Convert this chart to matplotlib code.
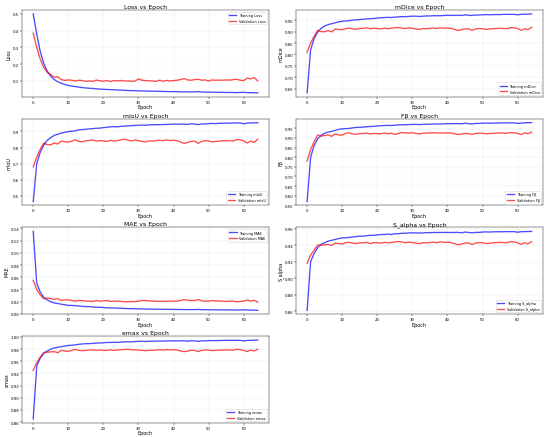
import matplotlib
matplotlib.use('Agg')
import matplotlib.pyplot as plt

epochs = list(range(65))

loss_train = [0.500, 0.380, 0.275, 0.205, 0.158, 0.128, 0.108, 0.095, 0.086, 0.079,
              0.073, 0.069, 0.066, 0.063, 0.060, 0.058, 0.056, 0.055, 0.053, 0.051,
              0.050, 0.049, 0.048, 0.047, 0.046, 0.045, 0.044, 0.043, 0.042, 0.042,
              0.041, 0.040, 0.040, 0.039, 0.039, 0.038, 0.038, 0.037, 0.037, 0.036,
              0.036, 0.036, 0.035, 0.035, 0.035, 0.034, 0.035, 0.036, 0.034, 0.033,
              0.033, 0.033, 0.032, 0.032, 0.032, 0.031, 0.031, 0.031, 0.030, 0.031,
              0.032, 0.030, 0.030, 0.029, 0.029]
loss_val = [0.385, 0.300, 0.230, 0.180, 0.150, 0.138, 0.122, 0.125, 0.108, 0.103,
            0.106, 0.104, 0.100, 0.104, 0.102, 0.098, 0.100, 0.097, 0.105, 0.101,
            0.098, 0.103, 0.096, 0.102, 0.100, 0.103, 0.099, 0.100, 0.098, 0.099,
            0.112, 0.104, 0.102, 0.101, 0.100, 0.097, 0.104, 0.098, 0.103, 0.100,
            0.102, 0.104, 0.108, 0.114, 0.106, 0.104, 0.108, 0.110, 0.104, 0.106,
            0.099, 0.106, 0.104, 0.105, 0.104, 0.106, 0.105, 0.108, 0.110, 0.104,
            0.102, 0.117, 0.112, 0.120, 0.100]

mdice_train = [0.632, 0.820, 0.870, 0.898, 0.915, 0.925, 0.931, 0.935, 0.939, 0.943,
               0.946, 0.947, 0.948, 0.951, 0.952, 0.953, 0.955, 0.956, 0.957, 0.958,
               0.960, 0.961, 0.962, 0.963, 0.962, 0.964, 0.965, 0.966, 0.966, 0.967,
               0.968, 0.968, 0.967, 0.968, 0.969, 0.969, 0.970, 0.970, 0.970, 0.971,
               0.972, 0.971, 0.972, 0.972, 0.971, 0.974, 0.972, 0.971, 0.973, 0.973,
               0.974, 0.975, 0.974, 0.975, 0.975, 0.975, 0.976, 0.976, 0.976, 0.976,
               0.974, 0.976, 0.977, 0.977, 0.978]
mdice_val = [0.810, 0.850, 0.880, 0.906, 0.900, 0.900, 0.905, 0.899, 0.912, 0.910,
             0.909, 0.913, 0.916, 0.912, 0.911, 0.914, 0.915, 0.917, 0.913, 0.915,
             0.914, 0.912, 0.916, 0.913, 0.915, 0.917, 0.918, 0.916, 0.914, 0.917,
             0.915, 0.912, 0.910, 0.914, 0.913, 0.915, 0.916, 0.914, 0.917, 0.915,
             0.916, 0.915, 0.910, 0.905, 0.909, 0.912, 0.913, 0.906, 0.912, 0.914,
             0.913, 0.910, 0.912, 0.913, 0.914, 0.915, 0.914, 0.913, 0.918, 0.917,
             0.914, 0.906, 0.913, 0.909, 0.919]

miou_train = [0.464, 0.700, 0.770, 0.815, 0.845, 0.862, 0.876, 0.883, 0.890, 0.895,
              0.899, 0.902, 0.904, 0.910, 0.912, 0.914, 0.916, 0.918, 0.920, 0.921,
              0.924, 0.926, 0.929, 0.930, 0.929, 0.932, 0.934, 0.935, 0.936, 0.938,
              0.939, 0.940, 0.939, 0.941, 0.942, 0.942, 0.943, 0.943, 0.944, 0.945,
              0.946, 0.945, 0.946, 0.946, 0.944, 0.948, 0.946, 0.943, 0.947, 0.947,
              0.949, 0.950, 0.949, 0.951, 0.951, 0.952, 0.952, 0.953, 0.953, 0.953,
              0.948, 0.952, 0.954, 0.954, 0.955]
miou_val = [0.680, 0.740, 0.790, 0.828, 0.818, 0.818, 0.828, 0.822, 0.840, 0.836,
            0.834, 0.840, 0.848, 0.838, 0.836, 0.842, 0.845, 0.847, 0.840, 0.843,
            0.842, 0.838, 0.845, 0.840, 0.843, 0.848, 0.852, 0.846, 0.842, 0.847,
            0.843, 0.838, 0.835, 0.842, 0.840, 0.843, 0.846, 0.842, 0.848, 0.844,
            0.845, 0.843, 0.835, 0.826, 0.832, 0.838, 0.840, 0.826, 0.838, 0.843,
            0.841, 0.835, 0.838, 0.840, 0.842, 0.843, 0.842, 0.840, 0.850, 0.848,
            0.842, 0.828, 0.840, 0.832, 0.852]

fb_train = [0.570, 0.800, 0.860, 0.895, 0.913, 0.924, 0.930, 0.934, 0.939, 0.944,
            0.947, 0.948, 0.949, 0.952, 0.954, 0.955, 0.956, 0.958, 0.959, 0.960,
            0.962, 0.963, 0.964, 0.965, 0.964, 0.966, 0.967, 0.968, 0.968, 0.969,
            0.970, 0.970, 0.969, 0.970, 0.971, 0.971, 0.972, 0.972, 0.972, 0.973,
            0.974, 0.973, 0.974, 0.974, 0.973, 0.976, 0.974, 0.972, 0.975, 0.975,
            0.976, 0.977, 0.976, 0.977, 0.977, 0.977, 0.978, 0.978, 0.978, 0.978,
            0.975, 0.977, 0.978, 0.979, 0.979]
fb_val = [0.780, 0.840, 0.880, 0.915, 0.910, 0.912, 0.916, 0.908, 0.921, 0.915,
          0.914, 0.924, 0.926, 0.920, 0.919, 0.922, 0.923, 0.925, 0.920, 0.923,
          0.922, 0.921, 0.925, 0.922, 0.924, 0.918, 0.923, 0.928, 0.926, 0.925,
          0.927, 0.923, 0.921, 0.924, 0.925, 0.926, 0.927, 0.925, 0.926, 0.925,
          0.926, 0.925, 0.922, 0.917, 0.920, 0.923, 0.922, 0.918, 0.923, 0.925,
          0.924, 0.921, 0.923, 0.924, 0.925, 0.926, 0.925, 0.924, 0.928, 0.926,
          0.924, 0.917, 0.926, 0.922, 0.930]

mae_train = [0.135, 0.050, 0.036, 0.027, 0.023, 0.020, 0.018, 0.017, 0.016, 0.015,
             0.014, 0.014, 0.0135, 0.013, 0.0125, 0.012, 0.012, 0.0115, 0.011, 0.011,
             0.0105, 0.010, 0.010, 0.0098, 0.0095, 0.0093, 0.009, 0.0088, 0.0086, 0.0085,
             0.0083, 0.0082, 0.0081, 0.008, 0.0079, 0.0078, 0.0077, 0.0076, 0.0076, 0.0075,
             0.0074, 0.0074, 0.0073, 0.0072, 0.0072, 0.0071, 0.0072, 0.0074, 0.0071, 0.007,
             0.0069, 0.0068, 0.0068, 0.0067, 0.0067, 0.0066, 0.0066, 0.0065, 0.0065, 0.0065,
             0.0068, 0.0064, 0.0063, 0.0062, 0.006]
mae_val = [0.055, 0.040, 0.031, 0.025, 0.026, 0.025, 0.024, 0.025, 0.022, 0.023,
           0.023, 0.022, 0.021, 0.022, 0.022, 0.021, 0.021, 0.0205, 0.022, 0.021,
           0.0215, 0.022, 0.0205, 0.021, 0.021, 0.0205, 0.020, 0.020, 0.0205, 0.020,
           0.021, 0.022, 0.022, 0.0215, 0.021, 0.021, 0.0205, 0.021, 0.0205, 0.021,
           0.021, 0.021, 0.022, 0.0235, 0.0225, 0.022, 0.022, 0.0235, 0.0215, 0.021,
           0.021, 0.022, 0.0215, 0.021, 0.021, 0.0205, 0.021, 0.021, 0.020, 0.0205,
           0.021, 0.023, 0.021, 0.0225, 0.0195]

salpha_train = [0.861, 0.920, 0.930, 0.937, 0.941, 0.943, 0.945, 0.946, 0.947, 0.948,
                0.949, 0.949, 0.9495, 0.950, 0.9505, 0.951, 0.951, 0.9515, 0.952, 0.952,
                0.9525, 0.953, 0.953, 0.9535, 0.953, 0.954, 0.954, 0.9545, 0.9545, 0.955,
                0.955, 0.955, 0.9548, 0.955, 0.9553, 0.9553, 0.9555, 0.9555, 0.9555, 0.9556,
                0.9556, 0.9554, 0.9556, 0.9556, 0.9550, 0.9560, 0.9556, 0.9550, 0.9556, 0.9556,
                0.9560, 0.9562, 0.9560, 0.9563, 0.9563, 0.9564, 0.9564, 0.9565, 0.9565, 0.9565,
                0.9558, 0.9564, 0.9566, 0.9566, 0.9568]
salpha_val = [0.918, 0.928, 0.934, 0.9405, 0.940, 0.9405, 0.941, 0.9398, 0.9425, 0.942,
              0.9415, 0.943, 0.9435, 0.9425, 0.942, 0.943, 0.943, 0.9435, 0.942, 0.9432,
              0.943, 0.9425, 0.9435, 0.943, 0.9432, 0.944, 0.9445, 0.944, 0.943, 0.9438,
              0.9432, 0.9425, 0.942, 0.943, 0.943, 0.9432, 0.9438, 0.943, 0.9442, 0.9435,
              0.9437, 0.9432, 0.942, 0.9405, 0.9415, 0.9425, 0.9428, 0.9408, 0.9425, 0.9433,
              0.943, 0.942, 0.9425, 0.943, 0.9432, 0.9435, 0.9432, 0.943, 0.9445, 0.944,
              0.943, 0.941, 0.943, 0.9418, 0.9445]

emax_train = [0.865, 0.952, 0.965, 0.973, 0.977, 0.980, 0.982, 0.983, 0.984, 0.985,
              0.986, 0.9865, 0.987, 0.988, 0.9885, 0.989, 0.989, 0.9895, 0.990, 0.990,
              0.9905, 0.991, 0.991, 0.9912, 0.991, 0.9915, 0.992, 0.992, 0.992, 0.9925,
              0.9928, 0.993, 0.9925, 0.993, 0.993, 0.9932, 0.9933, 0.9933, 0.9935, 0.9935,
              0.9937, 0.9935, 0.9937, 0.9937, 0.993, 0.994, 0.9935, 0.993, 0.9937, 0.9937,
              0.994, 0.9942, 0.994, 0.9943, 0.9943, 0.9945, 0.9945, 0.9945, 0.9945, 0.9945,
              0.9935, 0.9943, 0.9945, 0.9947, 0.9948]
emax_val = [0.945, 0.958, 0.967, 0.9745, 0.975, 0.9755, 0.976, 0.974, 0.978, 0.977,
            0.9765, 0.978, 0.9795, 0.978, 0.9775, 0.978, 0.9785, 0.979, 0.978, 0.9785,
            0.978, 0.9778, 0.979, 0.978, 0.9785, 0.979, 0.9795, 0.9798, 0.979, 0.9788,
            0.9783, 0.978, 0.9775, 0.978, 0.978, 0.9785, 0.979, 0.9783, 0.9792, 0.9788,
            0.979, 0.9785, 0.977, 0.9758, 0.9768, 0.978, 0.978, 0.976, 0.978, 0.9787,
            0.9785, 0.9775, 0.978, 0.9783, 0.9785, 0.9788, 0.9785, 0.9783, 0.9798, 0.9793,
            0.978, 0.976, 0.9785, 0.977, 0.980]

metrics = [
    ('Loss', loss_train, loss_val),
    ('mDice', mdice_train, mdice_val),
    ('mIoU', miou_train, miou_val),
    ('Fβ', fb_train, fb_val),
    ('MAE', mae_train, mae_val),
    ('S_alpha', salpha_train, salpha_val),
    ('emax', emax_train, emax_val),
]

fig, axes = plt.subplots(4, 2, figsize=(15, 11.945), dpi=36.667)
axes = axes.flatten()

for ax, (name, tr, va) in zip(axes, metrics):
    ax.plot(epochs, tr, color='blue', alpha=0.7, linewidth=2.6, label='Training ' + name)
    ax.plot(epochs, va, color='red', alpha=0.7, linewidth=2.6, label='Validation ' + name)
    ax.set_title(name + ' vs Epoch', fontsize=12, pad=4)
    ax.set_xlabel('Epoch', fontsize=9.5, labelpad=1)
    ax.set_ylabel(name, fontsize=9.5, labelpad=2)
    ax.tick_params(labelsize=7.5, pad=2)
    ax.grid(True, alpha=0.3)
    ax.legend(loc='best', fontsize=7)

axes[7].axis('off')

fig.subplots_adjust(left=0.04, right=0.987, top=0.975, bottom=0.032,
                    wspace=0.109, hspace=0.253)
plt.savefig('out.png')
